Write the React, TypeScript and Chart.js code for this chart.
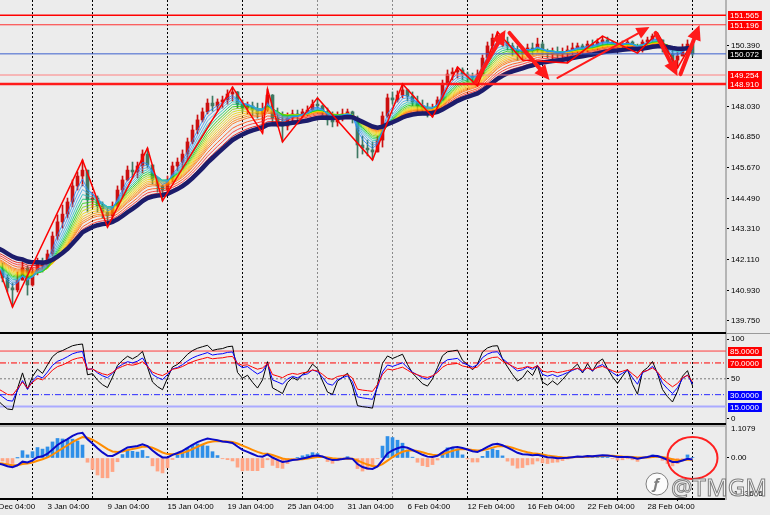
import React, { useEffect, useRef } from 'react';
import { Chart, registerables } from 'chart.js';
Chart.register(...registerables);

// ---------- price data (8h bars) ----------
const firstOpen = 141.95;
const closes = [
  141.72, 141.41, 141.03, 140.95, 141.33, 141.80, 141.14, 141.64, 142.03, 141.88,
  142.34, 143.03, 143.58, 143.88, 144.35, 144.97, 145.35, 145.58, 144.43, 144.50,
  144.19, 143.96, 143.81, 144.19, 144.81, 145.20, 145.58, 145.51, 145.74, 146.20,
  145.78, 145.20, 144.97, 144.81, 145.20, 145.74, 145.89, 146.20, 146.67, 147.13,
  147.52, 147.83, 148.17, 148.06, 148.21, 148.29, 148.52, 148.60, 148.13, 147.98,
  148.06, 147.90, 147.75, 147.90, 148.48, 147.59, 147.44, 147.28, 147.59, 147.75,
  147.67, 147.83, 147.90, 148.13, 148.06, 147.83, 147.52, 147.44, 147.67, 147.75,
  147.83, 147.59, 146.55, 146.43, 146.36, 146.28, 146.74, 147.67, 148.37, 148.29,
  148.48, 148.68, 148.44, 148.21, 148.06, 147.90, 147.83, 147.98, 148.29, 148.91,
  149.29, 149.37, 149.45, 149.29, 149.22, 149.14, 149.29, 149.91, 150.38, 150.68,
  150.76, 150.53, 150.38, 150.22, 150.07, 150.14, 150.30, 150.22, 150.45, 150.14,
  150.07, 150.14, 150.07, 150.14, 150.22, 150.30, 150.38, 150.30, 150.45, 150.38,
  150.53, 150.61, 150.53, 150.45, 150.38, 150.45, 150.53, 150.38, 150.22, 150.53,
  150.61, 150.76, 150.61, 150.30, 150.07, 149.83, 149.99, 150.30, 150.45, 150.072,
];
const highs = [
  142.22, 141.99, 141.53, 141.22, 141.64, 142.03, 141.88, 141.80, 142.18, 142.18,
  142.49, 143.19, 143.85, 144.23, 144.50, 145.20, 145.51, 145.97, 145.58, 144.73,
  144.58, 144.35, 144.12, 144.35, 144.97, 145.35, 145.74, 145.89, 145.89, 146.36,
  146.43, 145.78, 145.28, 145.00, 145.35, 145.89, 146.05, 146.36, 146.82, 147.32,
  147.71, 147.98, 148.33, 148.44, 148.33, 148.44, 148.68, 148.79, 148.62, 148.29,
  148.21, 148.21, 148.17, 148.17, 148.71, 148.50, 147.98, 147.83, 147.79, 147.90,
  147.90, 147.94, 148.06, 148.29, 148.37, 148.10, 147.98, 147.83, 147.83, 147.94,
  147.94, 147.86, 147.67, 146.90, 146.74, 146.67, 146.90, 147.83, 148.52, 148.60,
  148.64, 148.91, 148.71, 148.60, 148.44, 148.29, 148.17, 148.13, 148.41, 149.06,
  149.45, 149.53, 149.56, 149.53, 149.37, 149.33, 149.45, 150.03, 150.53, 150.84,
  150.92, 150.88, 150.72, 150.49, 150.38, 150.34, 150.45, 150.49, 150.68, 150.53,
  150.26, 150.30, 150.34, 150.30, 150.38, 150.49, 150.49, 150.45, 150.57, 150.61,
  150.65, 150.76, 150.72, 150.57, 150.53, 150.57, 150.61, 150.57, 150.45, 150.61,
  150.72, 150.84, 150.88, 150.61, 150.38, 150.22, 150.14, 150.45, 150.61, 150.53,
];
const lows = [
  141.45, 141.26, 140.87, 140.29, 140.87, 141.33, 140.75, 141.10, 141.53, 141.64,
  141.80, 142.26, 142.88, 143.34, 143.73, 144.16, 144.81, 144.97, 143.96, 144.12,
  143.96, 143.73, 143.38, 143.65, 144.15, 144.54, 145.16, 145.28, 145.28, 145.47,
  145.66, 145.04, 144.73, 144.39, 144.73, 145.12, 145.55, 145.66, 145.97, 146.59,
  146.98, 147.44, 147.75, 147.86, 147.86, 147.98, 148.13, 148.25, 147.98, 147.83,
  147.75, 147.67, 147.59, 147.01, 147.85, 147.44, 147.25, 146.67, 147.13, 147.36,
  147.44, 147.59, 147.67, 147.83, 147.90, 147.71, 147.32, 147.25, 147.28, 147.48,
  147.59, 147.40, 146.05, 146.20, 146.13, 145.97, 146.28, 146.47, 147.62, 148.13,
  148.21, 148.37, 148.25, 148.06, 147.83, 147.75, 147.63, 147.63, 147.83, 148.29,
  148.87, 149.06, 149.14, 149.06, 148.98, 148.91, 148.83, 149.22, 149.76, 150.22,
  150.38, 150.34, 150.22, 149.99, 149.83, 149.83, 149.99, 150.03, 150.14, 150.03,
  149.91, 149.87, 149.91, 149.83, 149.72, 150.03, 150.10, 150.07, 150.14, 150.22,
  150.22, 150.30, 150.34, 150.22, 150.22, 150.26, 150.30, 150.22, 150.10, 150.14,
  150.38, 150.45, 150.45, 150.14, 149.95, 149.76, 149.53, 149.99, 150.14, 149.99,
];

// ---------- axes ----------
const xLabels = ['28 Dec 04:00', '3 Jan 04:00', '9 Jan 04:00', '15 Jan 04:00', '19 Jan 04:00', '25 Jan 04:00',
  '31 Jan 04:00', '6 Feb 04:00', '12 Feb 04:00', '16 Feb 04:00', '22 Feb 04:00', '28 Feb 04:00'];
const xLabelIdx = [-2, 10, 22, 34, 46, 58, 70, 82, 94, 106, 118, 130];
const gridIdx = [6.9, 18.9, 33.9, 48.9, 63.9, 78.9, 93.9, 108.9, 123.9, 138.9];
const grayGridIdx = [63.9, 78.9];
const priceTicks = [139.75, 140.93, 142.11, 143.31, 144.49, 145.67, 146.85, 148.03, 150.39];
const levelValues = [151.565, 151.196, 150.072, 149.254, 148.91];

// ---------- ribbon / moving averages ----------
const ribbonPeriods = [3, 4, 5, 6, 7, 8, 9, 10, 11, 12, 13, 14, 15, 17, 19, 21];
const ribbonSeeds = [141.75, 141.8, 141.85, 141.88, 141.92, 141.95, 141.98, 142.02, 142.06, 142.1, 142.14,
  142.18, 142.22, 142.3, 142.38, 142.46];
const navyPeriod = 23;
const navySeed = 142.65;

// ---------- zigzag + drawn arrows ----------
const zzIdx = [0, 3, 17, 22, 30, 33, 47, 53, 54, 57, 64, 75, 81, 87, 92, 96, 100, 105, 114, 121, 128, 132, 136, 139];
const zzPrice = [141.95, 140.29, 145.97, 143.38, 146.43, 144.39, 148.79, 147.01, 148.71, 146.67, 148.37, 145.97,
  148.91, 147.63, 149.56, 148.83, 150.92, 149.83, 149.72, 150.76, 150.10, 150.88, 149.53, 150.53];
const arrowFromIdx = [95.6, 102.4, 112, 131.6, 136.6];
const arrowFromPrice = [148.98, 150.88, 149.14, 150.88, 149.29];
const arrowToIdx = [101.6, 110.4, 130.4, 136, 140.4];
const arrowToPrice = [150.99, 149.06, 151.11, 149.22, 151.19];

// ---------- oscillators ----------
const rsiPeriods = [5, 9, 14];
const rsiSeedGain = [0.06, 0.08, 0.09];
const rsiSeedLoss = [0.14, 0.14, 0.13];
const rsiLevels = [85, 70, 50, 30, 15];
const rsiTicks = [0, 50, 100];
const macdPeriods = [5, 10, 5];
const macdSeeds = [141.85, 142.05, -0.15];
const macdRange = [-1.33606, 1.1079];
const circleIdx = 139;
const circleVal = 0;

// ---------- layout constants ----------
const X_MIN = 0.5;
const X_MAX = 145.7;
const PRICE_MIN = 139.247;
const PRICE_MAX = 152.153;
const RSI_MIN = -7.0;
const RSI_MAX = 106.5;
const HIST_SCALE = 3.0;
const FONT = '"Liberation Sans", Arial, sans-serif';
const AXIS_FONT = { family: FONT, size: 8 };
const UP = '#cc1010';
const DOWN = '#3f7862';
const ribbonColors = ['#1e88ff', '#3898f0', '#40a8e8', '#20c0c0', '#00c860', '#20d000', '#80d400', '#c8dc00',
  '#f0d800', '#ffc000', '#ffa000', '#ff8400', '#ff6400', '#ff4400', '#ff2020', '#e00000'];

function ema(src: number[], period: number, seed: number) {
  const a = 2 / (period + 1);
  let e = seed;
  return src.map((v) => (e = e + a * (v - e)));
}
function rsi(period: number, g0: number, l0: number) {
  let ag = g0, al = l0, prev = firstOpen;
  return closes.map((c) => {
    const ch = c - prev;
    prev = c;
    ag = (ag * (period - 1) + Math.max(ch, 0)) / period;
    al = (al * (period - 1) + Math.max(-ch, 0)) / period;
    return al === 0 ? 100 : 100 - 100 / (1 + ag / al);
  });
}
const pts = (arr: number[]) => arr.map((v, i) => ({ x: i, y: v }));
const hline = (v: number) => [{ x: X_MIN, y: v }, { x: X_MAX, y: v }];

function rightAxis(min: number, max: number, ticks: number[], fmt: (v: number) => string) {
  return {
    type: 'linear', position: 'right', min, max,
    afterBuildTicks: (s: any) => { s.ticks = ticks.map((v) => ({ value: v })); },
    afterFit: (s: any) => { s.width = 44; s.paddingTop = 0; s.paddingBottom = 0; },
    ticks: { font: AXIS_FONT, color: '#000', padding: 2, callback: (v: any) => fmt(Number(v)) },
    grid: { drawOnChartArea: false, drawTicks: true, tickLength: 3, color: '#000', lineWidth: 1 },
    border: { display: true, color: '#b4b4b4', width: 2 },
  };
}
const hiddenX = { type: 'linear', min: X_MIN, max: X_MAX, offset: false, display: false };

function drawVGrid(chart: any) {
  const { ctx, chartArea, scales } = chart;
  ctx.save();
  ctx.lineWidth = 1;
  ctx.setLineDash([2, 2]);
  gridIdx.forEach((v) => {
    const px = Math.round(scales.x.getPixelForValue(v)) + 0.5;
    ctx.strokeStyle = grayGridIdx.includes(v) ? '#8a8a8a' : '#000';
    ctx.beginPath();
    ctx.moveTo(px, chartArea.top);
    ctx.lineTo(px, chartArea.bottom);
    ctx.stroke();
  });
  ctx.restore();
}
function boxLabel(ctx: any, left: number, y: number, text: string, bg: string) {
  ctx.save();
  ctx.font = `8px ${FONT}`;
  const w = ctx.measureText(text).width;
  const yy = Math.round(y);
  ctx.fillStyle = bg;
  ctx.fillRect(left + 2, yy - 4, w + 5, 9);
  ctx.fillStyle = '#fff';
  ctx.textBaseline = 'middle';
  ctx.textAlign = 'left';
  ctx.fillText(text, left + 4, yy + 0.5);
  ctx.restore();
}
function drawArrow(ctx: any, x1: number, y1: number, x2: number, y2: number, w: number) {
  const ang = Math.atan2(y2 - y1, x2 - x1);
  const head = w > 3 ? 15 : 13;
  const hw = w > 3 ? 7 : 6;
  const bx = x2 - head * Math.cos(ang), by = y2 - head * Math.sin(ang);
  ctx.strokeStyle = '#ff1a1a';
  ctx.fillStyle = '#ff1a1a';
  ctx.lineWidth = w;
  ctx.lineCap = 'round';
  ctx.beginPath(); ctx.moveTo(x1, y1); ctx.lineTo(bx, by); ctx.stroke();
  ctx.beginPath();
  ctx.moveTo(x2, y2);
  ctx.lineTo(bx + hw * Math.sin(ang), by - hw * Math.cos(ang));
  ctx.lineTo(bx - hw * Math.sin(ang), by + hw * Math.cos(ang));
  ctx.closePath();
  ctx.fill();
}

export default function App() {
  const mainRef = useRef<HTMLCanvasElement>(null);
  const rsiRef = useRef<HTMLCanvasElement>(null);
  const macdRef = useRef<HTMLCanvasElement>(null);

  useEffect(() => {
    const opens = closes.map((c, i) => (i === 0 ? firstOpen : closes[i - 1]));
    const cColors = closes.map((c, i) => (c >= opens[i] ? UP : DOWN));
    const wickData = closes.map((c, i) => ({ x: i, y: [Math.min(lows[i], opens[i], c), Math.max(highs[i], opens[i], c)] }));
    const bodyData = closes.map((c, i) => {
      const lo = Math.min(opens[i], c), hi = Math.max(opens[i], c);
      return { x: i, y: [lo, Math.max(hi, lo + 0.03)] };
    });
    const common: any = {
      responsive: false, animation: false, devicePixelRatio: 1, events: [],
      layout: { padding: 0 },
      plugins: { legend: { display: false }, tooltip: { enabled: false } },
    };
    const lineBase = { type: 'line', pointRadius: 0, tension: 0, fill: false };

    const levelColors = ['#ff0000', '#ff3030', '#3a5fcd', '#ff8080', '#ff1a1a'];
    const levelWidths = [1.5, 1, 1, 1, 2.5];
    const levelBoxes = ['#ff0000', '#ff0000', '#000000', '#ff0000', '#ff0000'];

    const mainPlugin = {
      id: 'mainDeco',
      beforeDatasetsDraw: (chart: any) => drawVGrid(chart),
      afterDatasetsDraw: (chart: any) => {
        const { ctx, scales } = chart;
        ctx.save();
        arrowFromIdx.forEach((_, k) => {
          drawArrow(ctx, scales.x.getPixelForValue(arrowFromIdx[k]), scales.y.getPixelForValue(arrowFromPrice[k]),
            scales.x.getPixelForValue(arrowToIdx[k]), scales.y.getPixelForValue(arrowToPrice[k]), k === 2 ? 2 : 4);
        });
        ctx.restore();
      },
      afterDraw: (chart: any) => {
        const { ctx, chartArea, scales } = chart;
        levelValues.forEach((v, k) => boxLabel(ctx, chartArea.right, scales.y.getPixelForValue(v), v.toFixed(3), levelBoxes[k]));
        ctx.save();
        ctx.fillStyle = '#000';
        ctx.fillRect(0, chart.height - 2, chartArea.right, 2);
        ctx.fillStyle = '#9a9a9a';
        ctx.fillRect(chartArea.right, chart.height - 1, chart.width - chartArea.right, 1);
        ctx.restore();
      },
    };

    const main = new Chart(mainRef.current as HTMLCanvasElement, {
      type: 'line',
      data: {
        datasets: [
          { type: 'bar', data: wickData, backgroundColor: cColors, barThickness: 1, maxBarThickness: 1, grouped: false, order: 50 },
          { type: 'bar', data: bodyData, backgroundColor: cColors, barThickness: 3, maxBarThickness: 3, grouped: false, order: 49 },
          ...ribbonPeriods.map((p, k) => ({
            ...lineBase, data: pts(ema(closes, p, ribbonSeeds[k])), borderColor: ribbonColors[k] + 'd0', borderWidth: 1, order: 20 + k,
          })),
          { ...lineBase, data: pts(ema(closes, navyPeriod, navySeed)), borderColor: '#1c1c6b', borderWidth: 4.5, order: 6 },
          ...levelValues.map((v, k) => ({ ...lineBase, data: hline(v), borderColor: levelColors[k], borderWidth: levelWidths[k], order: 4 })),
          { ...lineBase, data: zzIdx.map((x, k) => ({ x, y: zzPrice[k] })), borderColor: '#ff0000', borderWidth: 1.5, order: 2 },
        ] as any,
      },
      options: {
        ...common,
        scales: { x: hiddenX, y: rightAxis(PRICE_MIN, PRICE_MAX, priceTicks, (v) => v.toFixed(3)) } as any,
      },
      plugins: [mainPlugin],
    } as any);

    // ---------- RSI panel ----------
    const rsiSets = rsiPeriods.map((p, k) => rsi(p, rsiSeedGain[k], rsiSeedLoss[k]));
    const rsiColors = ['#000000', '#0000ff', '#ff0000'];
    const lvlColors = ['#ff3b3b', '#ff0000', '#7a7a7a', '#2a2aff', '#aaaaff'];
    const lvlDash = [[], [6, 2, 1, 2], [2, 2], [6, 2, 1, 2], []];
    const lvlWidth = [1, 1, 1, 1, 2];
    const lvlBox = ['#ff0000', '#ff0000', '', '#0000ff', '#0000ff'];
    const rsiPlugin = {
      id: 'rsiDeco',
      beforeDatasetsDraw: (chart: any) => drawVGrid(chart),
      afterDraw: (chart: any) => {
        const { ctx, chartArea, scales } = chart;
        rsiLevels.forEach((v, k) => { if (lvlBox[k]) boxLabel(ctx, chartArea.right, scales.y.getPixelForValue(v), v.toFixed(4), lvlBox[k]); });
        ctx.save();
        ctx.fillStyle = '#000';
        ctx.fillRect(0, chart.height - 1, chartArea.right, 1);
        ctx.restore();
      },
    };
    const rsiChart = new Chart(rsiRef.current as HTMLCanvasElement, {
      type: 'line',
      data: {
        datasets: [
          ...rsiLevels.map((v, k) => ({ ...lineBase, data: hline(v), borderColor: lvlColors[k], borderDash: lvlDash[k], borderWidth: lvlWidth[k], order: 10 })),
          ...rsiSets.map((s, k) => ({ ...lineBase, data: pts(s), borderColor: rsiColors[k], borderWidth: 1, order: 3 - k })),
        ] as any,
      },
      options: {
        ...common,
        scales: { x: hiddenX, y: rightAxis(RSI_MIN, RSI_MAX, rsiTicks, (v) => String(v)) } as any,
      },
      plugins: [rsiPlugin],
    } as any);

    // ---------- MACD panel ----------
    const fastE = ema(closes, macdPeriods[0], macdSeeds[0]);
    const slowE = ema(closes, macdPeriods[1], macdSeeds[1]);
    const macdLine = fastE.map((v, i) => v - slowE[i]);
    const signalLine = ema(macdLine, macdPeriods[2], macdSeeds[2]);
    const hist = macdLine.map((v, i) => (v - signalLine[i]) * HIST_SCALE);
    const macdPlugin = {
      id: 'macdDeco',
      beforeDatasetsDraw: (chart: any) => drawVGrid(chart),
      afterDraw: (chart: any) => {
        const { ctx, chartArea, scales } = chart;
        ctx.save();
        ctx.fillStyle = '#000';
        ctx.fillRect(0, 0, chartArea.right, 1);
        ctx.fillStyle = '#b8b8b8';
        ctx.fillRect(0, 1, chartArea.right, 2);
        ctx.font = `8px ${FONT}`;
        ctx.fillStyle = '#000';
        ctx.textBaseline = 'middle';
        ctx.fillText(macdRange[1].toString(), chartArea.right + 5, chartArea.top + 5);
        ctx.fillText(macdRange[0].toString(), chartArea.right + 5, chartArea.bottom - 5);
        // red circle annotation
        const cx = scales.x.getPixelForValue(circleIdx), cy = scales.y.getPixelForValue(circleVal);
        ctx.strokeStyle = '#ff2020';
        ctx.lineWidth = 2;
        ctx.beginPath();
        ctx.ellipse(cx, cy, 25, 21, 0, 0, Math.PI * 2);
        ctx.stroke();
        // watermark
        ctx.globalAlpha = 0.85;
        ctx.fillStyle = '#ffffff';
        ctx.strokeStyle = '#6a6a6a';
        ctx.lineWidth = 1;
        ctx.beginPath();
        ctx.arc(657, 60, 11, 0, Math.PI * 2);
        ctx.fill();
        ctx.stroke();
        ctx.font = `italic bold 15px "Noto Sans"`;
        ctx.textAlign = 'center';
        ctx.fillStyle = '#6a6a6a';
        ctx.fillText('f', 656, 61);
        ctx.textAlign = 'left';
        ctx.textBaseline = 'alphabetic';
        ctx.font = `24px "Noto Sans"`;
        ctx.fillStyle = '#ffffff';
        ctx.fillText('@TMGM', 671, 72);
        ctx.strokeText('@TMGM', 671, 72);
        ctx.restore();
      },
    };
    const macdChart = new Chart(macdRef.current as HTMLCanvasElement, {
      type: 'line',
      data: {
        datasets: [
          { type: 'bar', data: pts(hist), backgroundColor: hist.map((v) => (v >= 0 ? '#2f8fe8' : '#ffa585')), barThickness: 3, maxBarThickness: 3, grouped: false, order: 10 },
          { ...lineBase, data: pts(signalLine), borderColor: '#ff8c00', borderWidth: 2, order: 3 },
          { ...lineBase, data: pts(macdLine), borderColor: '#0a0ac8', borderWidth: 2, order: 2 },
        ] as any,
      },
      options: {
        ...common,
        scales: {
          x: {
            type: 'linear', min: X_MIN, max: X_MAX, offset: false, position: 'bottom',
            afterBuildTicks: (s: any) => { s.ticks = xLabelIdx.map((v) => ({ value: v })); },
            afterFit: (s: any) => { s.height = 16; s.paddingLeft = 0; s.paddingRight = 0; },
            ticks: { autoSkip: false, maxRotation: 0, minRotation: 0, align: 'start', padding: 1, font: AXIS_FONT, color: '#000',
              callback: (_v: any, idx: number) => xLabels[idx] },
            grid: { drawOnChartArea: false, drawTicks: true, tickLength: 2, color: '#000' },
            border: { display: true, color: '#000', width: 2 },
          },
          y: rightAxis(macdRange[0], macdRange[1], [0], () => '0.00'),
        } as any,
      },
      plugins: [macdPlugin],
    } as any);

    return () => { main.destroy(); rsiChart.destroy(); macdChart.destroy(); };
  }, []);

  return (
    <div style={{ position: 'fixed', left: 0, top: 0, width: 770, height: 515, background: '#ececec', overflow: 'hidden' }}>
      <canvas ref={mainRef} width={770} height={334} style={{ position: 'absolute', left: 0, top: 0, display: 'block' }} />
      <canvas ref={rsiRef} width={770} height={90} style={{ position: 'absolute', left: 0, top: 334, display: 'block' }} />
      <canvas ref={macdRef} width={770} height={91} style={{ position: 'absolute', left: 0, top: 424, display: 'block' }} />
    </div>
  );
}
